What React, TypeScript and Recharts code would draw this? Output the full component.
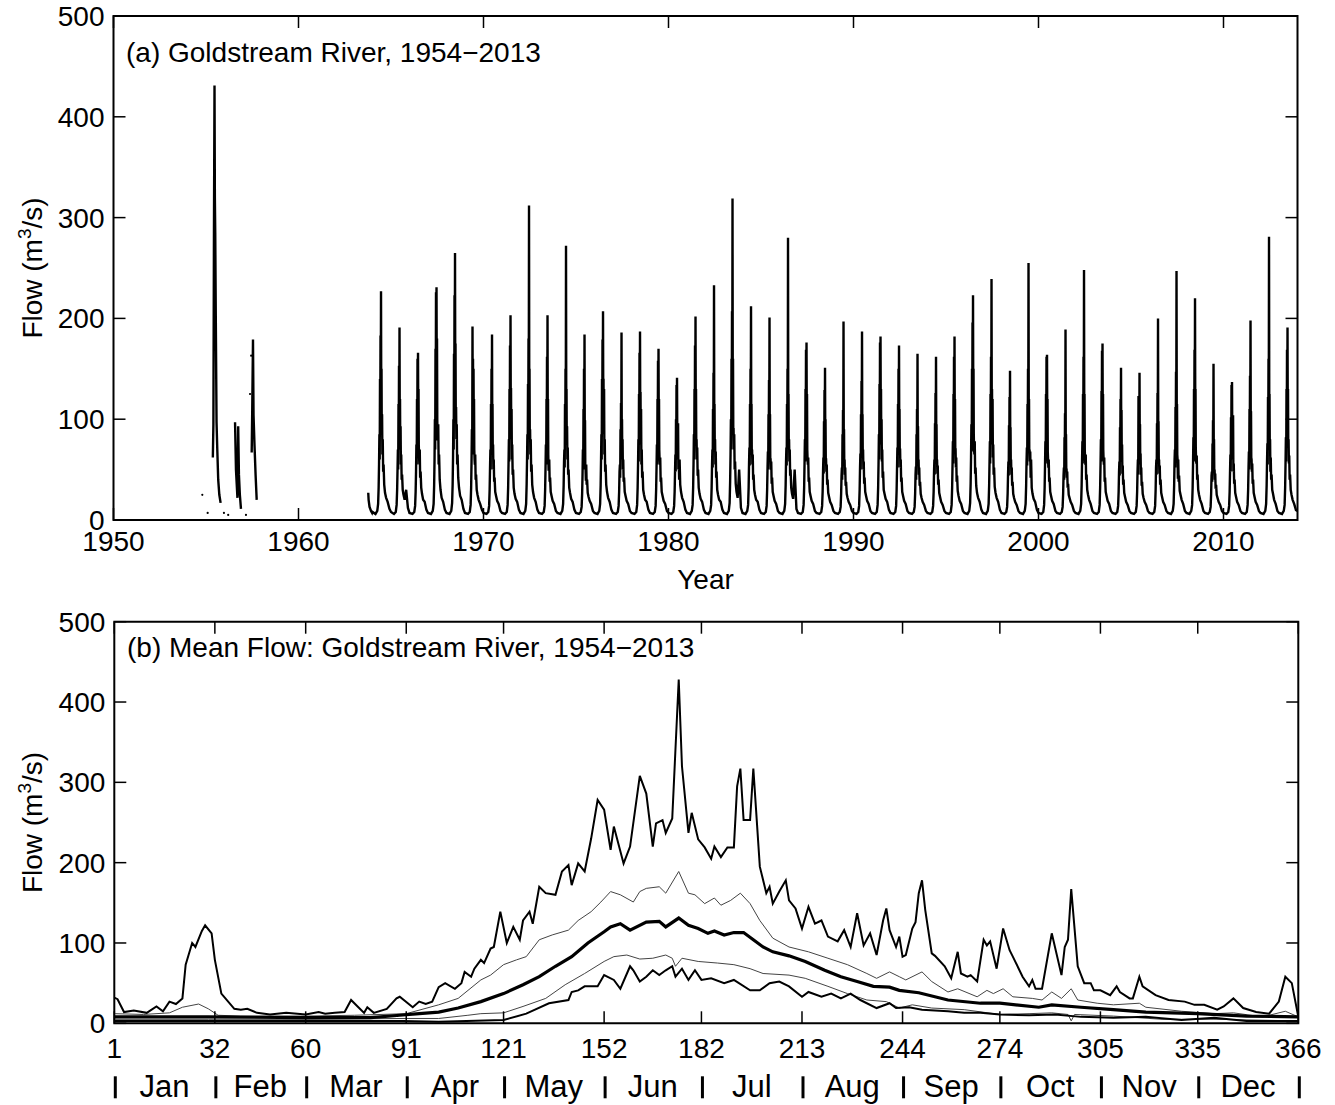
import React from "react";
import {
  ComposedChart,
  LineChart,
  Line,
  Scatter,
  XAxis,
  YAxis,
  ReferenceArea,
} from "recharts";

const FONT = '"Liberation Sans", Arial, Helvetica, sans-serif';

// ---------- (a) daily record, sampled at these days of each year ----------
const SAMPLE_DAY = [1, 60, 95, 112, 122, 130, 137, 143, 149, 154, 159, 164, 169, 174, 179, 184, 190, 196, 203, 211, 220, 232, 248, 270, 300, 335];
const FIRST_FULL_YEAR = 1964;

const FLOW_1964_69 = [
  [8, 6, 9, 16, 32, 55, 85, 60, 140, 95, 183, 110, 227, 115, 150, 85, 105, 65, 80, 48, 55, 35, 27, 22, 18, 11],
  [8, 6, 8, 15, 30, 50, 70, 50, 115, 80, 153, 90, 191, 95, 120, 70, 93, 55, 65, 40, 45, 30, 25, 20, 30, 12],
  [7, 6, 8, 14, 28, 48, 75, 55, 120, 85, 160, 95, 166, 100, 130, 75, 63, 55, 70, 42, 48, 32, 26, 20, 18, 10],
  [7, 6, 9, 16, 34, 60, 100, 70, 170, 120, 226, 125, 231, 130, 180, 100, 80, 80, 95, 55, 65, 40, 30, 22, 18, 10],
  [7, 6, 9, 17, 35, 62, 100, 70, 165, 115, 223, 125, 265, 135, 175, 100, 112, 80, 95, 55, 65, 42, 32, 24, 20, 11],
  [7, 6, 8, 15, 32, 58, 90, 65, 192, 100, 160, 90, 150, 95, 120, 70, 60, 55, 65, 40, 45, 30, 25, 20, 16, 10],
];
const FLOW_1970S = [
  [7, 6, 8, 14, 30, 52, 70, 50, 115, 80, 150, 85, 184, 90, 115, 65, 75, 50, 60, 38, 42, 28, 24, 19, 16, 9],
  [7, 6, 8, 15, 32, 56, 80, 58, 130, 90, 173, 100, 203, 110, 131, 80, 110, 60, 75, 45, 50, 32, 26, 21, 18, 10],
  [7, 6, 9, 16, 35, 60, 85, 60, 135, 95, 180, 113, 312, 120, 150, 85, 90, 65, 80, 48, 55, 35, 28, 22, 18, 10],
  [7, 6, 8, 14, 30, 52, 75, 55, 120, 85, 162, 90, 203, 95, 120, 65, 50, 50, 60, 38, 42, 28, 24, 19, 16, 9],
  [7, 6, 9, 16, 34, 58, 70, 52, 115, 80, 150, 90, 272, 110, 130, 75, 93, 60, 72, 45, 50, 32, 27, 21, 18, 10],
  [7, 6, 8, 13, 26, 45, 70, 50, 110, 75, 150, 80, 184, 85, 99, 55, 50, 39, 55, 35, 40, 27, 23, 19, 16, 9],
  [7, 6, 9, 16, 34, 60, 85, 60, 140, 95, 179, 105, 207, 115, 140, 85, 130, 65, 80, 48, 55, 35, 28, 22, 18, 10],
  [7, 6, 8, 14, 28, 48, 55, 42, 90, 65, 116, 70, 186, 80, 100, 60, 80, 50, 60, 38, 42, 28, 24, 19, 16, 9],
  [7, 6, 8, 15, 32, 55, 80, 58, 125, 90, 166, 95, 187, 100, 127, 75, 110, 55, 70, 42, 48, 30, 25, 20, 18, 10],
  [7, 6, 8, 14, 30, 52, 75, 55, 120, 85, 158, 90, 170, 95, 120, 70, 60, 55, 62, 38, 42, 28, 24, 19, 16, 9],
];
const FLOW_1980S = [
  [7, 6, 8, 14, 28, 48, 65, 48, 100, 72, 134, 80, 141, 85, 96, 60, 96, 50, 60, 40, 60, 35, 28, 22, 18, 10],
  [7, 6, 9, 15, 32, 56, 85, 60, 130, 90, 173, 100, 202, 105, 130, 75, 80, 60, 72, 44, 50, 32, 26, 21, 18, 10],
  [7, 6, 9, 15, 32, 55, 70, 52, 110, 78, 146, 85, 233, 95, 115, 70, 80, 55, 68, 42, 48, 30, 25, 20, 18, 10],
  [7, 6, 9, 17, 38, 65, 100, 70, 160, 110, 207, 125, 319, 130, 160, 90, 90, 70, 85, 50, 58, 36, 28, 22, 50, 12],
  [7, 6, 9, 15, 32, 56, 72, 54, 115, 80, 150, 90, 212, 95, 115, 65, 70, 55, 65, 40, 45, 30, 25, 20, 18, 10],
  [7, 6, 8, 14, 30, 52, 68, 50, 105, 75, 139, 80, 201, 85, 105, 60, 60, 50, 58, 36, 42, 28, 24, 19, 16, 9],
  [7, 6, 9, 16, 34, 58, 72, 54, 115, 80, 150, 95, 280, 105, 125, 72, 80, 58, 70, 44, 50, 32, 26, 21, 50, 11],
  [7, 6, 8, 15, 32, 56, 80, 58, 130, 90, 169, 95, 176, 100, 125, 70, 60, 55, 62, 38, 42, 28, 24, 19, 16, 9],
  [7, 6, 8, 14, 28, 48, 62, 46, 98, 70, 129, 75, 151, 80, 100, 60, 60, 48, 55, 35, 40, 27, 23, 18, 15, 9],
  [7, 6, 8, 13, 26, 44, 52, 40, 85, 60, 109, 65, 197, 75, 90, 55, 60, 45, 52, 34, 38, 26, 22, 18, 15, 9],
];
const FLOW_1990S = [
  [7, 6, 8, 14, 30, 52, 66, 50, 105, 74, 138, 80, 187, 85, 105, 62, 70, 50, 58, 36, 42, 28, 24, 19, 16, 9],
  [7, 6, 8, 15, 32, 56, 85, 60, 135, 92, 176, 100, 182, 105, 130, 75, 100, 58, 70, 42, 48, 30, 26, 21, 18, 10],
  [7, 6, 8, 14, 30, 52, 72, 52, 115, 80, 150, 85, 173, 90, 110, 65, 71, 52, 60, 38, 42, 28, 24, 19, 16, 9],
  [7, 6, 8, 13, 26, 45, 53, 40, 85, 60, 110, 65, 165, 70, 93, 55, 60, 45, 52, 34, 38, 26, 22, 18, 15, 9],
  [7, 6, 8, 14, 28, 48, 60, 45, 96, 68, 126, 72, 162, 78, 95, 58, 60, 46, 54, 35, 40, 27, 23, 18, 15, 9],
  [7, 6, 8, 15, 32, 55, 78, 56, 125, 88, 162, 92, 182, 98, 120, 70, 70, 52, 62, 38, 44, 29, 24, 19, 16, 9],
  [7, 6, 9, 17, 36, 62, 95, 68, 150, 105, 196, 115, 223, 120, 150, 85, 70, 65, 78, 46, 52, 34, 27, 22, 18, 10],
  [7, 6, 9, 16, 34, 58, 78, 56, 125, 88, 162, 95, 239, 105, 130, 75, 120, 62, 75, 45, 52, 33, 27, 22, 18, 10],
  [7, 6, 8, 13, 26, 45, 58, 44, 94, 66, 122, 70, 148, 75, 92, 55, 60, 45, 52, 34, 38, 26, 22, 18, 15, 9],
  [7, 6, 9, 16, 34, 58, 72, 54, 115, 80, 150, 90, 255, 100, 120, 68, 70, 58, 68, 42, 60, 32, 26, 21, 18, 10],
];
const FLOW_2000S = [
  [7, 6, 8, 15, 32, 55, 78, 56, 125, 88, 162, 90, 164, 95, 120, 68, 60, 52, 60, 38, 42, 28, 24, 19, 16, 9],
  [7, 6, 8, 13, 26, 44, 52, 40, 82, 58, 106, 62, 189, 70, 85, 50, 50, 42, 48, 32, 36, 25, 22, 18, 15, 9],
  [7, 6, 9, 16, 34, 58, 78, 56, 125, 88, 162, 95, 248, 100, 125, 70, 60, 55, 65, 40, 45, 30, 25, 20, 16, 9],
  [7, 6, 8, 15, 32, 55, 80, 58, 128, 90, 168, 95, 175, 100, 125, 70, 60, 55, 62, 38, 42, 28, 24, 19, 16, 9],
  [7, 6, 8, 14, 28, 48, 58, 44, 92, 66, 120, 72, 151, 78, 109, 58, 75, 46, 54, 35, 40, 27, 23, 18, 15, 9],
  [7, 6, 8, 14, 28, 48, 60, 45, 123, 66, 95, 70, 146, 76, 95, 55, 66, 45, 52, 34, 38, 26, 22, 18, 15, 9],
  [7, 6, 8, 14, 30, 52, 60, 45, 96, 68, 126, 72, 200, 80, 98, 58, 60, 46, 54, 35, 40, 27, 23, 18, 15, 9],
  [7, 6, 9, 16, 34, 58, 70, 52, 112, 78, 147, 85, 247, 95, 115, 65, 60, 41, 60, 38, 44, 29, 25, 20, 16, 9],
  [7, 6, 9, 15, 32, 56, 82, 58, 130, 90, 169, 98, 220, 105, 130, 72, 60, 56, 64, 40, 45, 30, 25, 20, 16, 9],
  [7, 6, 8, 13, 26, 44, 48, 38, 76, 54, 99, 58, 155, 65, 80, 48, 50, 40, 46, 31, 35, 25, 22, 18, 15, 9],
];
const FLOW_2010_13 = [
  [7, 6, 8, 14, 28, 48, 65, 48, 102, 72, 134, 78, 137, 82, 104, 60, 104, 48, 56, 36, 40, 27, 23, 18, 15, 9],
  [7, 6, 8, 15, 30, 52, 68, 50, 110, 76, 143, 82, 198, 88, 108, 62, 60, 48, 56, 36, 40, 27, 23, 18, 15, 9],
  [7, 6, 9, 16, 34, 58, 76, 55, 122, 85, 160, 109, 281, 110, 125, 72, 80, 48, 62, 40, 45, 30, 26, 20, 16, 9],
  [7, 6, 9, 15, 32, 56, 82, 58, 130, 90, 169, 98, 191, 105, 130, 72, 80, 56, 64, 40, 45, 30, 25, 20, 16, 10],
];

// broken early record, [decimal year, flow]
const EARLY_1955: [number, number][] = [
  [1955.37, 62], [1955.4, 95], [1955.43, 285], [1955.46, 431], [1955.48, 319], [1955.5, 285],
  [1955.53, 200], [1955.57, 97], [1955.61, 70], [1955.66, 40], [1955.72, 25], [1955.79, 17],
];
const EARLY_1956: [number, number][] = [
  [1956.57, 97], [1956.62, 50], [1956.7, 22], [1956.74, 93], [1956.78, 45], [1956.83, 25], [1956.89, 11],
];
const EARLY_1957: [number, number][] = [
  [1957.47, 67], [1957.5, 110], [1957.54, 179], [1957.57, 104], [1957.62, 75], [1957.68, 45], [1957.74, 20],
];
const STRAY_DAYS: [number, number][] = [
  [1954.8, 25], [1955.09, 7], [1955.97, 7], [1956.2, 5], [1957.16, 5], [1957.38, 125], [1957.44, 163],
];
const START_1963: [number, number][] = [[1963.77, 27], [1963.79, 20], [1963.84, 13], [1963.92, 9], [1963.98, 7]];
const END_2013: [number, number][] = [[2013.99, 9]];

const YEAR_TICKS = [1950, 1960, 1970, 1980, 1990, 2000, 2010];
const FLOW_TICKS = [0, 100, 200, 300, 400, 500];

// ---------- (b) day-of-year statistics, [day, flow] ----------
const MAX_FLOW: [number, number][] = [
  [1, 32], [2, 30], [4, 14], [7, 16], [11, 13], [14, 21], [16, 15], [18, 27], [20, 24], [22, 31],
  [23, 73], [25, 100], [26, 95], [28, 115], [29, 122], [31, 112], [32, 79], [34, 37], [38, 18], [40, 17],
  [42, 18], [45, 13], [49, 11], [54, 13], [60, 11], [64, 14], [66, 12], [69, 13], [72, 14], [74, 29],
  [76, 21], [78, 13], [79, 20], [81, 13], [85, 18], [88, 31], [89, 33], [93, 20], [95, 27], [97, 24],
  [99, 27], [101, 45], [103, 50], [106, 43], [108, 50], [109, 64], [111, 58], [112, 68], [114, 79], [115, 75],
  [117, 93], [118, 95], [120, 139], [122, 100], [124, 120], [126, 104], [127, 128], [129, 139], [130, 124], [132, 170],
  [134, 162], [137, 160], [139, 189], [141, 197], [142, 172], [144, 199], [146, 189], [148, 230], [150, 278], [152, 266],
  [154, 216], [155, 245], [158, 199], [160, 220], [163, 308], [165, 286], [167, 220], [168, 249], [170, 253], [171, 237],
  [173, 255], [175, 428], [176, 320], [178, 237], [179, 262], [181, 229], [183, 219], [185, 205], [186, 220], [188, 207],
  [190, 219], [192, 219], [193, 295], [194, 317], [195, 253], [197, 253], [198, 317], [200, 195], [202, 162], [203, 170],
  [204, 149], [206, 164], [208, 178], [209, 153], [211, 143], [213, 118], [215, 145], [217, 124], [219, 128], [221, 108],
  [224, 102], [226, 116], [228, 95], [230, 137], [232, 97], [234, 112], [236, 85], [238, 128], [239, 143], [240, 116],
  [242, 95], [243, 108], [244, 83], [245, 85], [247, 118], [248, 126], [249, 162], [250, 178], [251, 141], [253, 87],
  [254, 84], [257, 71], [259, 56], [261, 89], [262, 62], [264, 58], [265, 60], [267, 52], [269, 104], [270, 97],
  [271, 102], [273, 68], [275, 118], [277, 91], [278, 83], [281, 58], [283, 46], [284, 54], [285, 43], [287, 43],
  [290, 112], [293, 60], [294, 95], [295, 104], [296, 167], [298, 71], [300, 50], [302, 50], [303, 41], [305, 41],
  [308, 35], [310, 46], [311, 39], [314, 31], [315, 31], [317, 58], [318, 46], [322, 35], [326, 29], [331, 27],
  [334, 23], [337, 23], [341, 17], [343, 21], [346, 31], [349, 19], [353, 14], [357, 12], [360, 27], [362, 58],
  [364, 50], [366, 8],
];
const UPPER_FLOW: [number, number][] = [
  [1, 12], [10, 11], [18, 13], [22, 20], [27, 24], [30, 18], [33, 10], [40, 9], [60, 9], [75, 10],
  [91, 12], [101, 23], [107, 31], [114, 54], [117, 60], [121, 73], [125, 79], [128, 83], [132, 104], [136, 110],
  [141, 116], [144, 128], [148, 139], [151, 151], [154, 164], [157, 160], [161, 151], [163, 164], [165, 168], [169, 170],
  [171, 162], [175, 189], [178, 162], [180, 160], [183, 149], [186, 156], [188, 147], [191, 153], [194, 162], [197, 149],
  [200, 128], [204, 106], [209, 95], [215, 89], [221, 81], [227, 73], [233, 62], [236, 56], [240, 64], [243, 58],
  [245, 54], [250, 64], [253, 52], [258, 39], [261, 43], [267, 33], [270, 41], [272, 37], [275, 43], [278, 33],
  [284, 31], [287, 29], [290, 39], [293, 31], [296, 43], [298, 29], [304, 25], [309, 23], [317, 25], [319, 20],
  [330, 15], [340, 12], [346, 13], [355, 8], [362, 15], [366, 8],
];
const MEAN_FLOW: [number, number][] = [
  [1, 8], [30, 8], [60, 7], [80, 7], [89, 10], [95, 12], [101, 14], [107, 19], [114, 27], [121, 37],
  [127, 48], [132, 58], [137, 71], [142, 83], [147, 100], [152, 114], [154, 120], [157, 124], [160, 116], [165, 126],
  [169, 127], [171, 120], [175, 131], [178, 122], [181, 118], [184, 112], [186, 115], [189, 110], [192, 113], [195, 113],
  [198, 104], [201, 95], [204, 89], [209, 84], [214, 77], [220, 66], [225, 58], [230, 52], [235, 46], [240, 45],
  [243, 41], [249, 38], [258, 29], [268, 25], [274, 25], [286, 20], [290, 23], [299, 20], [309, 17], [319, 14],
  [335, 12], [350, 9], [366, 8],
];
const LOWER_FLOW: [number, number][] = [
  [1, 5], [30, 5], [60, 5], [90, 6], [101, 6], [110, 10], [114, 12], [121, 13], [127, 21], [134, 31],
  [140, 48], [146, 62], [152, 77], [155, 83], [159, 85], [163, 80], [167, 81], [171, 85], [173, 81], [174, 71],
  [176, 81], [181, 77], [187, 75], [192, 73], [197, 68], [201, 62], [209, 60], [214, 56], [221, 46], [227, 37],
  [233, 29], [239, 27], [243, 19], [247, 23], [253, 19], [263, 17], [274, 11], [283, 12], [290, 13], [295, 11],
  [296, 3], [297, 11], [309, 9], [324, 5], [340, 5], [366, 3],
];
const MIN_FLOW: [number, number][] = [
  [1, 3], [30, 3], [60, 3], [90, 3], [101, 2], [121, 4], [128, 12], [135, 25], [141, 29], [142, 39],
  [144, 41], [146, 46], [150, 46], [152, 60], [155, 54], [157, 43], [160, 71], [161, 66], [163, 52], [165, 58],
  [167, 66], [169, 60], [171, 66], [173, 71], [174, 58], [176, 68], [178, 54], [180, 66], [182, 54], [185, 56],
  [189, 50], [192, 54], [197, 41], [200, 41], [203, 50], [206, 52], [209, 46], [213, 33], [215, 39], [219, 33],
  [222, 37], [225, 31], [228, 37], [231, 29], [236, 19], [240, 25], [242, 19], [246, 20], [250, 17], [258, 15],
  [263, 13], [268, 13], [274, 11], [283, 10], [291, 11], [299, 8], [309, 7], [319, 8], [330, 4], [340, 7],
  [350, 3], [366, 3],
];

const MONTH_START = [1, 32, 60, 91, 121, 152, 182, 213, 244, 274, 305, 335, 366];
const MONTHS = ["Jan", "Feb", "Mar", "Apr", "May", "Jun", "Jul", "Aug", "Sep", "Oct", "Nov", "Dec"];

// ---------- layout ----------
const W = 1335;
const TICK = 12;
const A = { top: 16, left: 113.5, w: 1184, h: 504, height: 604 };
const B = { offset: 600, top: 21.7, left: 114.3, w: 1184, h: 401.6, height: 505 };

// ---------- build series ----------
type Pt = { t: number; q: number | null };
const seg = (pts: [number, number][]): Pt[] => pts.map(([t, q]) => ({ t, q }));
const gap = (t: number): Pt => ({ t, q: null });
const yearRows = [...FLOW_1964_69, ...FLOW_1970S, ...FLOW_1980S, ...FLOW_1990S, ...FLOW_2000S, ...FLOW_2010_13];
const fullYears: Pt[] = yearRows.flatMap((row, i) =>
  row.map((q, k) => ({ t: FIRST_FULL_YEAR + i + (SAMPLE_DAY[k] - 1) / 365, q }))
);
const recordA: Pt[] = [
  ...seg(EARLY_1955), gap(1956),
  ...seg(EARLY_1956), gap(1957),
  ...seg(EARLY_1957), gap(1960),
  ...seg(START_1963), ...fullYears, ...seg(END_2013),
];
const strays = seg(STRAY_DAYS);

const byDay = (pts: [number, number][]) => pts.map(([d, q]) => ({ d, q }));
const monthMids = MONTHS.map((_, i) => (MONTH_START[i] + MONTH_START[i + 1]) / 2);
const DAY_AXIS_TICKS = [...MONTH_START, ...monthMids].sort((a, b) => a - b);

// ---------- ticks ----------
const makeYTick = (plotW: number) => (props: any) => {
  const { x, y, payload } = props;
  return (
    <g>
      <line x1={x} x2={x + TICK} y1={y} y2={y} stroke="#000" strokeWidth={1.5} />
      <line x1={x + plotW - TICK} x2={x + plotW} y1={y} y2={y} stroke="#000" strokeWidth={1.5} />
      <text x={x - 9} y={y} dy="0.36em" textAnchor="end" fontSize={28} fontFamily={FONT} fill="#000">
        {payload.value}
      </text>
    </g>
  );
};

const YearTick = (props: any) => {
  const { x, y, payload } = props;
  return (
    <g>
      <line x1={x} x2={x} y1={y} y2={y - TICK} stroke="#000" strokeWidth={1.5} />
      <line x1={x} x2={x} y1={y - A.h} y2={y - A.h + TICK} stroke="#000" strokeWidth={1.5} />
      <text x={x} y={y + 31} textAnchor="middle" fontSize={28} fontFamily={FONT} fill="#000">
        {payload.value}
      </text>
    </g>
  );
};

const DayTick = (props: any) => {
  const { x, y, payload } = props;
  const v = payload.value;
  const k = MONTH_START.indexOf(v);
  if (k < 0) {
    const m = monthMids.indexOf(v);
    return (
      <text x={x} y={y + 74} textAnchor="middle" fontSize={31} fontFamily={FONT} fill="#000">
        {MONTHS[m]}
      </text>
    );
  }
  return (
    <g>
      <line x1={x} x2={x} y1={y} y2={y - TICK} stroke="#000" strokeWidth={1.5} />
      <line x1={x} x2={x} y1={y - B.h} y2={y - B.h + TICK} stroke="#000" strokeWidth={1.5} />
      <text x={x} y={y + 35} textAnchor="middle" fontSize={28} fontFamily={FONT} fill="#000">
        {v}
      </text>
      <line x1={x + 1} x2={x + 1} y1={y + 53} y2={y + 75} stroke="#000" strokeWidth={3} />
    </g>
  );
};

const strayDot = (p: any) => <circle cx={p.cx} cy={p.cy} r={1.1} fill="#000" />;

const FlowLabel = ({ cy }: { cy: number }) => (
  <text
    transform={`translate(42, ${cy}) rotate(-90)`}
    textAnchor="middle"
    fontSize={28}
    fontFamily={FONT}
    fill="#000"
  >
    Flow (m<tspan dy={-11} fontSize={19}>3</tspan>
    <tspan dy={11}>/s)</tspan>
  </text>
);

export default function App() {
  return (
    <div style={{ position: "absolute", left: 0, top: 0, width: W, height: 1105, background: "#fff" }}>
      <div style={{ position: "absolute", left: 0, top: 0 }}>
        <ComposedChart width={W} height={A.height} margin={{ top: A.top, right: W - A.left - A.w, left: 0, bottom: 0 }}>
          <XAxis
            dataKey="t"
            type="number"
            domain={[1950, 2014]}
            ticks={YEAR_TICKS}
            interval={0}
            tickSize={0}
            tickMargin={0}
            axisLine={false}
            tickLine={false}
            tick={YearTick}
            height={A.height - A.top - A.h}
            allowDataOverflow
          />
          <YAxis
            type="number"
            domain={[0, 500]}
            ticks={FLOW_TICKS}
            interval={0}
            width={A.left}
            tickSize={0}
            tickMargin={0}
            axisLine={false}
            tickLine={false}
            tick={makeYTick(A.w)}
            allowDataOverflow
          />
          <ReferenceArea x1={1950} x2={2014} y1={0} y2={500} fill="none" stroke="#000" strokeWidth={2} ifOverflow="visible" />
          <Line
            data={recordA}
            dataKey="q"
            type="linear"
            stroke="#000"
            strokeWidth={2.4}
            dot={false}
            connectNulls={false}
            isAnimationActive={false}
          />
          <Scatter data={strays} dataKey="q" shape={strayDot} isAnimationActive={false} />
        </ComposedChart>
      </div>

      <div style={{ position: "absolute", left: 0, top: B.offset }}>
        <LineChart width={W} height={B.height} margin={{ top: B.top, right: W - B.left - B.w, left: 0, bottom: 0 }}>
          <XAxis
            dataKey="d"
            type="number"
            domain={[1, 366]}
            ticks={DAY_AXIS_TICKS}
            interval={0}
            tickSize={0}
            tickMargin={0}
            axisLine={false}
            tickLine={false}
            tick={DayTick}
            height={B.height - B.top - B.h}
            allowDataOverflow
          />
          <YAxis
            type="number"
            domain={[0, 500]}
            ticks={FLOW_TICKS}
            interval={0}
            width={B.left}
            tickSize={0}
            tickMargin={0}
            axisLine={false}
            tickLine={false}
            tick={makeYTick(B.w)}
            allowDataOverflow
          />
          <ReferenceArea x1={1} x2={366} y1={0} y2={500} fill="none" stroke="#000" strokeWidth={2} ifOverflow="visible" />
          <Line data={byDay(UPPER_FLOW)} dataKey="q" stroke="#444" strokeWidth={1} dot={false} isAnimationActive={false} />
          <Line data={byDay(LOWER_FLOW)} dataKey="q" stroke="#444" strokeWidth={1} dot={false} isAnimationActive={false} />
          <Line data={byDay(MIN_FLOW)} dataKey="q" stroke="#000" strokeWidth={2} dot={false} isAnimationActive={false} />
          <Line data={byDay(MAX_FLOW)} dataKey="q" stroke="#000" strokeWidth={2} dot={false} isAnimationActive={false} />
          <Line data={byDay(MEAN_FLOW)} dataKey="q" stroke="#000" strokeWidth={3.2} dot={false} isAnimationActive={false} />
        </LineChart>
      </div>

      <svg
        width={W}
        height={1105}
        style={{ position: "absolute", left: 0, top: 0, pointerEvents: "none" }}
      >
        <text x={126} y={62} fontSize={28} fontFamily={FONT} fill="#000">
          (a) Goldstream River, 1954−2013
        </text>
        <text x={127} y={657} fontSize={28} fontFamily={FONT} fill="#000">
          (b) Mean Flow: Goldstream River, 1954−2013
        </text>
        <text x={A.left + A.w / 2} y={589} textAnchor="middle" fontSize={28} fontFamily={FONT} fill="#000">
          Year
        </text>
        <FlowLabel cy={A.top + A.h / 2} />
        <FlowLabel cy={B.offset + B.top + B.h / 2} />
      </svg>
    </div>
  );
}
